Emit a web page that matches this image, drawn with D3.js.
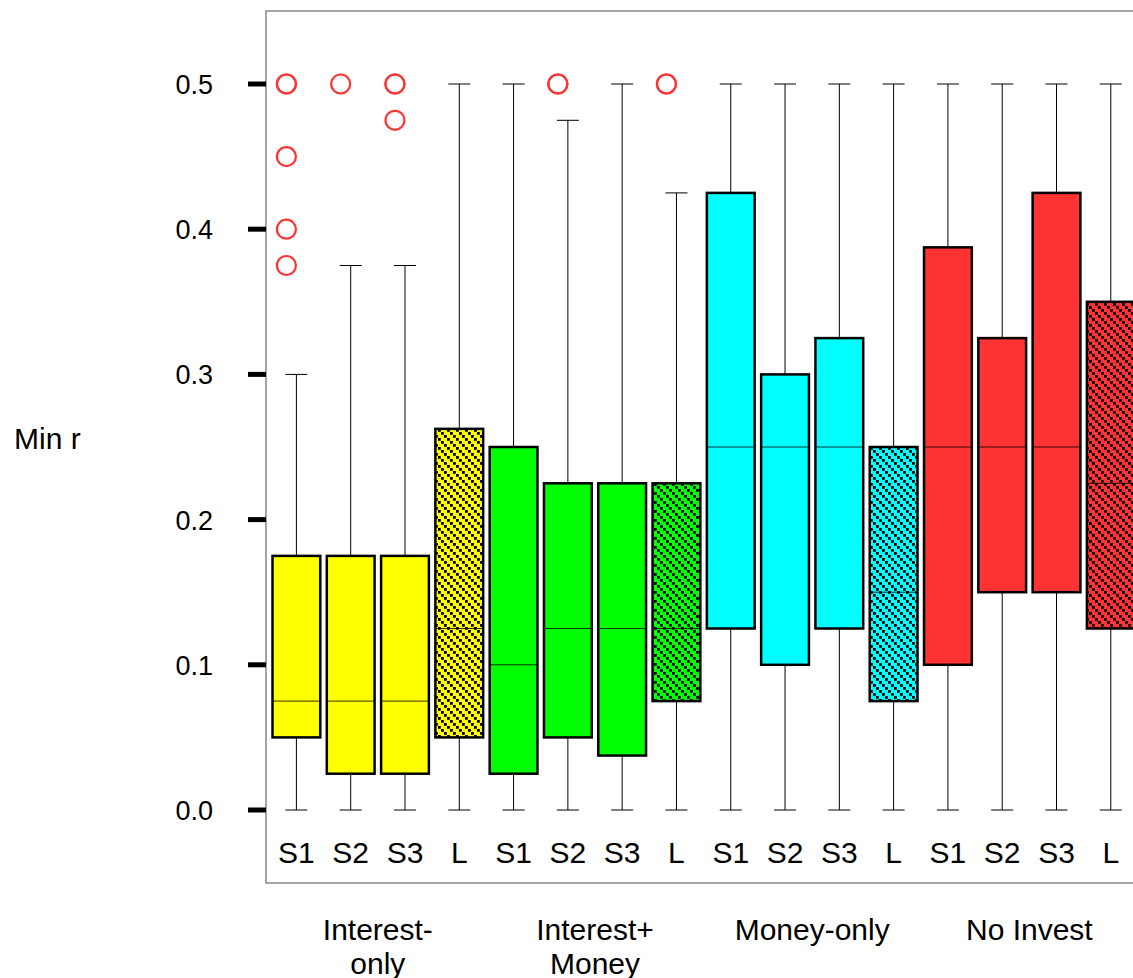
<!DOCTYPE html>
<html>
<head>
<meta charset="utf-8">
<script src="https://cdn.jsdelivr.net/npm/d3@7"></script>
<style>
  body { margin: 0; background: #fff; }
  svg { display: block; font-family: Arial, "Liberation Sans", sans-serif; }
</style>
</head>
<body>
<svg id="chart" width="1133" height="978"></svg>
<script>
// groups and treatments
var groups = ["Interest-only", "Interest+Money", "Money-only", "No Invest"];
var groupLines = [["Interest-", "only"], ["Interest+", "Money"], ["Money-only"], ["No Invest"]];
var treatments = ["S1", "S2", "S3", "L"];
var groupColors = ["#ffff00", "#00ff00", "#00ffff", "#ff3333"];

// box stats per box: [whisker low, Q1, median, Q3, whisker high]
var interestOnly = [
    [0, 0.05, 0.075, 0.175, 0.3],
    [0, 0.025, 0.075, 0.175, 0.375],
    [0, 0.025, 0.075, 0.175, 0.375],
    [0, 0.05, 0.125, 0.2625, 0.5]
];
var interestMoney = [
    [0, 0.025, 0.1, 0.25, 0.5],
    [0, 0.05, 0.125, 0.225, 0.475],
    [0, 0.0375, 0.125, 0.225, 0.5],
    [0, 0.075, 0.125, 0.225, 0.425]
];
var moneyOnly = [
    [0, 0.125, 0.25, 0.425, 0.5],
    [0, 0.1, 0.25, 0.3, 0.5],
    [0, 0.125, 0.25, 0.325, 0.5],
    [0, 0.075, 0.15, 0.25, 0.5]
];
var noInvest = [
    [0, 0.1, 0.25, 0.3875, 0.5],
    [0, 0.15, 0.25, 0.325, 0.5],
    [0, 0.15, 0.25, 0.425, 0.5],
    [0, 0.125, 0.225, 0.35, 0.5]
];
// outliers per box (index into the 16 boxes)
var outliers = [
    [0, 0.5], [0, 0.5], [0, 0.45], [0, 0.4], [0, 0.375],
    [1, 0.5],
    [2, 0.5], [2, 0.5], [2, 0.475],
    [5, 0.5], [5, 0.5],
    [7, 0.5], [7, 0.5]
];
var yTicks = [0, 0.1, 0.2, 0.3, 0.4, 0.5];

var svg = d3.select("#chart");
var stats = [interestOnly, interestMoney, moneyOnly, noInvest];

// flatten into box records
var boxes = [];
stats.forEach(function(g, gi) {
    g.forEach(function(s, ti) {
        boxes.push({ key: gi + "_" + ti, group: gi, t: ti, s: s });
    });
});

var x = d3.scaleBand()
    .domain(boxes.map(function(d) { return d.key; }))
    .range([266, 266 + 16 * 54.7])
    .padding(0.12);
var y = d3.scaleLinear().domain([0, 0.5]).range([810, 84]);
var bw = x.bandwidth();
function cx(key) { return x(key) + bw / 2; }

// hatch patterns for the L boxes (dotted diagonal lines, top-left to bottom-right)
var defs = svg.append("defs");
groupColors.forEach(function(c, i) {
    var p = defs.append("pattern")
        .attr("id", "hatch" + i)
        .attr("patternUnits", "userSpaceOnUse")
        .attr("width", 9).attr("height", 9);
    p.append("rect").attr("width", 9).attr("height", 9).attr("fill", c);
    [0, 3, 6].forEach(function(o) {
        p.append("rect").attr("x", o).attr("y", o).attr("width", 2.8).attr("height", 2.8).attr("fill", "#000");
    });
});

// frame
svg.append("rect")
    .attr("x", 266).attr("y", 11)
    .attr("width", 1000).attr("height", 872)
    .attr("fill", "none")
    .attr("stroke", "#888").attr("stroke-width", 1.5);

// y axis ticks
var yAxis = svg.append("g");
yAxis.selectAll("line").data(yTicks).enter().append("line")
    .attr("x1", 248).attr("x2", 266)
    .attr("y1", function(d) { return y(d); })
    .attr("y2", function(d) { return y(d); })
    .attr("stroke", "#000").attr("stroke-width", 5);
yAxis.selectAll("text").data(yTicks).enter().append("text")
    .attr("x", 213)
    .attr("y", function(d) { return y(d) + 10; })
    .attr("text-anchor", "end")
    .attr("font-size", 27)
    .text(function(d) { return d3.format(".1f")(d); });

svg.append("text")
    .attr("x", 14).attr("y", 449)
    .attr("font-size", 30)
    .text("Min r");

// boxes
var bx = svg.selectAll("g.box").data(boxes).enter().append("g").attr("class", "box");

bx.append("line") // upper whisker
    .attr("x1", function(d) { return cx(d.key); })
    .attr("x2", function(d) { return cx(d.key); })
    .attr("y1", function(d) { return y(d.s[3]); })
    .attr("y2", function(d) { return y(d.s[4]); })
    .attr("stroke", "#000").attr("stroke-width", 1);
bx.append("line") // lower whisker
    .attr("x1", function(d) { return cx(d.key); })
    .attr("x2", function(d) { return cx(d.key); })
    .attr("y1", function(d) { return y(d.s[1]); })
    .attr("y2", function(d) { return y(d.s[0]); })
    .attr("stroke", "#000").attr("stroke-width", 1);
[0, 4].forEach(function(k) {
    bx.append("line")
        .attr("x1", function(d) { return cx(d.key) - 11; })
        .attr("x2", function(d) { return cx(d.key) + 11; })
        .attr("y1", function(d) { return y(d.s[k]); })
        .attr("y2", function(d) { return y(d.s[k]); })
        .attr("stroke", "#000").attr("stroke-width", 1);
});
bx.append("rect")
    .attr("x", function(d) { return x(d.key); })
    .attr("width", bw)
    .attr("y", function(d) { return y(d.s[3]); })
    .attr("height", function(d) { return y(d.s[1]) - y(d.s[3]); })
    .attr("fill", function(d) { return d.t === 3 ? "url(#hatch" + d.group + ")" : groupColors[d.group]; })
    .attr("stroke", "#000").attr("stroke-width", 2.5);
bx.append("line") // median
    .attr("x1", function(d) { return x(d.key) + 1; })
    .attr("x2", function(d) { return x(d.key) + bw - 1; })
    .attr("y1", function(d) { return y(d.s[2]); })
    .attr("y2", function(d) { return y(d.s[2]); })
    .attr("stroke", "#000").attr("stroke-width", 0.8);

// outliers
svg.selectAll("circle.out").data(outliers).enter().append("circle")
    .attr("class", "out")
    .attr("cx", function(d) { return cx(boxes[d[0]].key) - 10; })
    .attr("cy", function(d) { return y(d[1]); })
    .attr("r", 9.5)
    .attr("fill", "none")
    .attr("stroke", "#ff3333").attr("stroke-width", 2.2);

// treatment labels
svg.selectAll("text.tr").data(boxes).enter().append("text")
    .attr("class", "tr")
    .attr("x", function(d) { return cx(d.key); })
    .attr("y", 863)
    .attr("text-anchor", "middle")
    .attr("font-size", 30)
    .text(function(d) { return treatments[d.t]; });

// group labels
groupLines.forEach(function(lines, gi) {
    var gx = (cx(gi + "_0") + cx(gi + "_3")) / 2;
    var t = svg.append("text")
        .attr("text-anchor", "middle")
        .attr("font-size", 30);
    lines.forEach(function(l, li) {
        t.append("tspan").attr("x", gx).attr("y", 940 + li * 34).text(l);
    });
});
</script>
</body>
</html>
